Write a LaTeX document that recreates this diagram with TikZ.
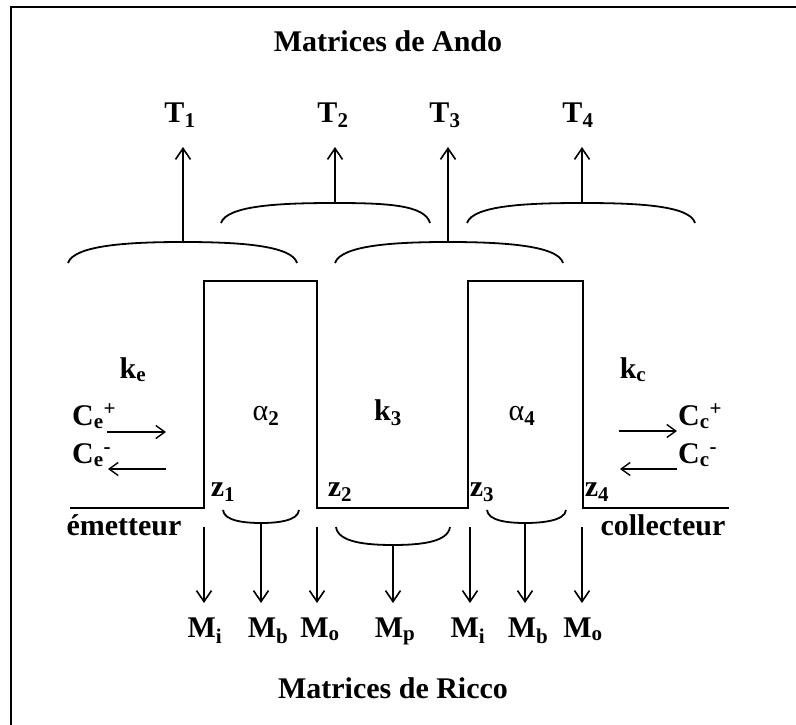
\documentclass[tikz,border=0pt]{standalone}
\usepackage{fontspec}
\setmainfont{Liberation Serif}
\usetikzlibrary{arrows.meta}
\begin{document}
\begin{tikzpicture}[x=1pt,y=-1pt,
  every node/.style={font=\fontsize{30}{35}\selectfont\bfseries, inner sep=0pt},
  lbl/.style={anchor=base},
  lblw/.style={anchor=base west},
  greek/.style={anchor=base, font=\fontsize{30}{35}\selectfont},
  arr/.style={line width=1.8pt, -{Straight Barb[length=11pt,width=15pt,line width=1.6pt]}},
  sarr/.style={line width=1.4pt, -{Straight Barb[length=9pt,width=13pt,line width=1.4pt]}},
  brace/.style={line width=1.8pt},
  wall/.style={line width=1.6pt},
  frame/.style={line width=1.8pt}]
\path[use as bounding box] (0,0) rectangle (796,725);
\draw[frame] (11,725) -- (11,7) -- (796,7);

% titles
\node[lbl] (ando) at (388,52) {Matrices de Ando};
\node[lbl] (ricco) at (393,698) {Matrices de Ricco};

% Ando labels
\node[lbl] (T1) at (180,122) {T\textsubscript{1}};
\node[lbl] (T2) at (333,122) {T\textsubscript{2}};
\node[lbl] (T3) at (445,122) {T\textsubscript{3}};
\node[lbl] (T4) at (578,122) {T\textsubscript{4}};
\coordinate (t1) at (183,147);
\coordinate (t2) at (335,147);
\coordinate (t3) at (448,147);
\coordinate (t4) at (582,147);

% top braces
\coordinate (a1) at (183,242);
\coordinate (a2) at (335,203);
\coordinate (a3) at (448,242);
\coordinate (a4) at (582,203);
\draw[brace] (68,263) .. controls (74,245) and (130,242) .. (a1) .. controls (236,242) and (292,245) .. (297,263);
\draw[brace] (221,223) .. controls (227,205) and (283,203) .. (a2) .. controls (387,203) and (425,205) .. (430,223);
\draw[brace] (335,263) .. controls (341,245) and (396,242) .. (a3) .. controls (500,242) and (558,245) .. (563,263);
\draw[brace] (467,223) .. controls (473,205) and (530,203) .. (a4) .. controls (634,203) and (690,205) .. (695,223);
\draw[arr] (a1) -- (t1);
\draw[arr] (a2) -- (t2);
\draw[arr] (a3) -- (t3);
\draw[arr] (a4) -- (t4);

% potential profile
\draw[wall] (70,508) -- (204,508) -- (204,281) -- (317,281) -- (317,508) -- (468,508) -- (468,281) -- (583,281) -- (583,508) -- (729,508);

% region labels
\node[lbl] (ke) at (133,378) {k\textsubscript{e}};
\node[lbl] (kc) at (633,378) {k\textsubscript{c}};
\node[greek] (al2) at (266,420) {α\textsubscript{\bfseries 2}};
\node[lbl] (k3) at (388,420) {k\textsubscript{3}};
\node[greek] (al4) at (522,420) {α\textsubscript{\bfseries 4}};
\node[lbl] (z1) at (223,496) {z\textsubscript{1}};
\node[lbl] (z2) at (340,496) {z\textsubscript{2}};
\node[lbl] (z3) at (482,496) {z\textsubscript{3}};
\node[lbl] (z4) at (597,496) {z\textsubscript{4}};
\node[lbl] (em) at (124,535) {émetteur};
\node[lbl] (col) at (663,535) {collecteur};

% waves
\node[lblw] (cep) at (72,425) {C\textsubscript{e}\textsuperscript{+}};
\node[lblw] (cem) at (72,463) {C\textsubscript{e}\textsuperscript{-}};
\node[lblw] (ccp) at (678,425) {C\textsubscript{c}\textsuperscript{+}};
\node[lblw] (ccm) at (678,463) {C\textsubscript{c}\textsuperscript{-}};
\coordinate (ep0) at (107,432); \coordinate (ep1) at (166,432);
\coordinate (em0) at (166,469); \coordinate (em1) at (108,469);
\coordinate (cp0) at (619,431); \coordinate (cp1) at (677,431);
\coordinate (cm0) at (677,469); \coordinate (cm1) at (620,469);
\draw[sarr] (ep0) -- (ep1);
\draw[sarr] (em0) -- (em1);
\draw[sarr] (cp0) -- (cp1);
\draw[sarr] (cm0) -- (cm1);

% bottom braces
\coordinate (b1) at (261,523);
\coordinate (bp) at (393,545);
\coordinate (b2) at (525,523);
\draw[brace] (223,510) .. controls (224,521) and (245,523) .. (b1) .. controls (277,523) and (298,521) .. (299,510);
\draw[brace] (336,527) .. controls (338,542) and (365,545) .. (bp) .. controls (421,545) and (448,542) .. (450,527);
\draw[brace] (487,510) .. controls (488,521) and (509,523) .. (b2) .. controls (541,523) and (565,521) .. (566,510);

% Ricco arrows
\coordinate (s1) at (204,527); \coordinate (e1) at (204,603);
\coordinate (e2) at (261,603);
\coordinate (s3) at (317,527); \coordinate (e3) at (317,603);
\coordinate (e4) at (393,603);
\coordinate (s5) at (470,527); \coordinate (e5) at (470,603);
\coordinate (e6) at (525,603);
\coordinate (s7) at (582,527); \coordinate (e7) at (582,603);
\draw[arr] (s1) -- (e1);
\draw[arr] (b1) -- (e2);
\draw[arr] (s3) -- (e3);
\draw[arr] (bp) -- (e4);
\draw[arr] (s5) -- (e5);
\draw[arr] (b2) -- (e6);
\draw[arr] (s7) -- (e7);

\node[lbl] (m1) at (205,637) {M\textsubscript{i}};
\node[lbl] (m2) at (268,637) {M\textsubscript{b}};
\node[lbl] (m3) at (320,637) {M\textsubscript{o}};
\node[lbl] (m4) at (395,637) {M\textsubscript{p}};
\node[lbl] (m5) at (468,637) {M\textsubscript{i}};
\node[lbl] (m6) at (528,637) {M\textsubscript{b}};
\node[lbl] (m7) at (583,637) {M\textsubscript{o}};
\end{tikzpicture}
\end{document}
